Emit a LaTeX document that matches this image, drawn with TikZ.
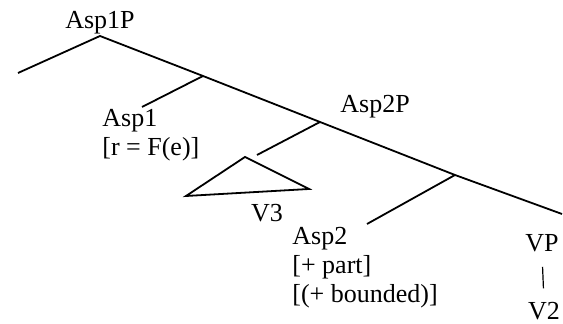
\documentclass[tikz,border=0pt]{standalone}
\usepackage{fontspec}
\setmainfont{Liberation Serif}

\begin{document}
\begin{tikzpicture}[
    x=0.5pt, y=-0.5pt,
    branch/.style={line width=0.9pt},
    lbl/.style={inner sep=0pt, font=\fontsize{13}{14.5}\selectfont, align=left}
]
    \useasboundingbox (0,0) rectangle (563,324);

    % Junctions of the tree
    \coordinate (asp1p) at (100,36);
    \coordinate (spec) at (18,73);
    \coordinate (asp1bar) at (203,76);
    \coordinate (asp1end) at (142,107);
    \coordinate (asp2p) at (320,122);
    \coordinate (v3end) at (257,155);
    \coordinate (asp2bar) at (455,175);
    \coordinate (asp2end) at (367,224);
    \coordinate (vpend) at (562,214);

    % Triangle for V3
    \coordinate (triA) at (245,157);
    \coordinate (triB) at (186,196);
    \coordinate (triC) at (309,189);

    % Labels (base of a multi-line node = its last line)
    \node[lbl, anchor=base] (lasp1p) at (100,29) {Asp1P};
    \node[lbl, anchor=base west] (lasp1) at (102,156) {Asp1\\{[}r = F(e)]};
    \node[lbl, anchor=base west] (lasp2p) at (340,113) {Asp2P};
    \node[lbl, anchor=base] (lv3) at (267,222) {V3};
    \node[lbl, anchor=base west] (lasp2) at (292,303) {Asp2\\{[}+ part]\\{[}(+ bounded)]};
    \node[lbl, anchor=base] (lvp) at (542,252) {VP};
    \node[lbl, anchor=base] (lv2) at (544,320) {V2};

    % Branches
    \draw[branch] (spec) -- (asp1p) -- (asp1bar) -- (asp2p) -- (asp2bar) -- (vpend);
    \draw[branch] (asp1bar) -- (asp1end);
    \draw[branch] (asp2p) -- (v3end);
    \draw[branch] (asp2bar) -- (asp2end);
    \draw[branch] (triA) -- (triB) -- (triC) -- cycle;
    \draw[line width=0.6pt, shorten <=7pt, shorten >=7pt] (lvp.south) -- (lv2.north);
\end{tikzpicture}
\end{document}
